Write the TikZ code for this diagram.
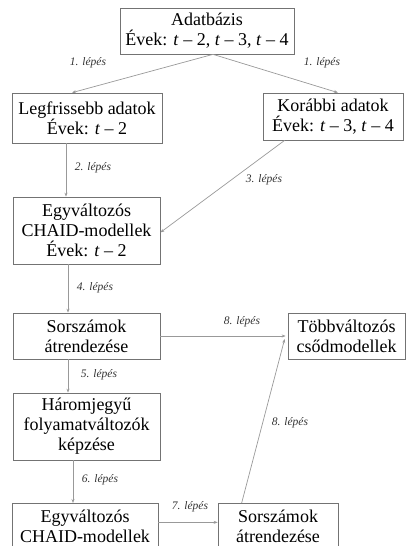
\documentclass[tikz,border=0pt]{standalone}
\usepackage{fontspec}
\setmainfont{Liberation Serif}
\usetikzlibrary{arrows.meta}

\tikzset{
  box/.style={draw=black!55,line width=0.7pt,inner sep=0pt,align=center,font=\fontsize{18}{20}\selectfont},
  arr/.style={draw=black!40,line width=0.7pt,-{Stealth[length=4pt,width=3pt]}},
  lbl/.style={inner sep=1pt,text=black!80,font=\fontsize{11.5}{13}\selectfont\itshape}
}

\begin{document}
\begin{tikzpicture}[x=1pt,y=-1pt]
\clip (0,0) rectangle (407,546);
\node[box,minimum width=174pt,minimum height=46pt] (db) at (207,31) {Adatbázis\\Évek: \textit{t} – 2, \textit{t} – 3, \textit{t} – 4};
\node[box,minimum width=150pt,minimum height=50pt] (fresh) at (87,118) {Legfrissebb adatok\\Évek: \textit{t} – 2};
\node[box,minimum width=140pt,minimum height=47pt] (older) at (333,116.5) {Korábbi adatok\\Évek: \textit{t} – 3, \textit{t} – 4};
\node[box,minimum width=147pt,minimum height=67pt] (chaid1) at (86.5,230.5) {Egyváltozós\\CHAID-modellek\\Évek: \textit{t} – 2};
\node[box,minimum width=147pt,minimum height=46pt] (rank1) at (86.5,336) {Sorszámok\\átrendezése};
\node[box,minimum width=117pt,minimum height=46pt] (multi) at (346.5,336) {Többváltozós\\csődmodellek};
\node[box,minimum width=147pt,minimum height=67pt] (three) at (86.5,426.5) {Háromjegyű\\folyamatváltozók\\képzése};
\node[box,anchor=north,minimum width=146pt,minimum height=46pt] (chaid2) at (85,503) {Egyváltozós\\CHAID-modellek};
\node[box,anchor=north,minimum width=120pt,minimum height=46pt] (rank2) at (278,503) {Sorszámok\\átrendezése};

\draw[arr] ([xshift=6pt]db.south) -- ([xshift=-15pt]fresh.north);
\draw[arr] ([xshift=6pt]db.south) -- ([xshift=5pt]older.north);
\draw[arr] ([xshift=-21pt]fresh.south) -- ([xshift=-20.5pt]chaid1.north);
\draw[arr] ([xshift=22pt]older.south west) -- ([yshift=-2pt]chaid1.east);
\draw[arr] ([xshift=-18.5pt]chaid1.south) -- ([xshift=-18.5pt]rank1.north);
\draw[arr] (rank1.east) -- ([xshift=-2pt]multi.west);
\draw[arr] ([xshift=-18.5pt]rank1.south) -- ([xshift=-18.5pt]three.north);
\draw[arr] ([xshift=-13.5pt]three.south) -- ([xshift=-12pt]chaid2.north);
\draw[arr] ([yshift=4pt]chaid2.east) -- ([yshift=4pt]rank2.west);
\draw[arr] ([xshift=24pt]rank2.north west) -- ([xshift=-3pt,yshift=-3pt]multi.west);

\node[lbl] (s1a) at (88,63) {1. lépés};
\node[lbl] (s1b) at (322,63) {1. lépés};
\node[lbl] (s2) at (93,168) {2. lépés};
\node[lbl] (s3) at (264,180) {3. lépés};
\node[lbl] (s4) at (95,288) {4. lépés};
\node[lbl] (s8a) at (242,322) {8. lépés};
\node[lbl] (s5) at (99,375) {5. lépés};
\node[lbl] (s8b) at (290,423) {8. lépés};
\node[lbl] (s6) at (100,480) {6. lépés};
\node[lbl] (s7) at (190,507) {7. lépés};
\end{tikzpicture}
\end{document}
